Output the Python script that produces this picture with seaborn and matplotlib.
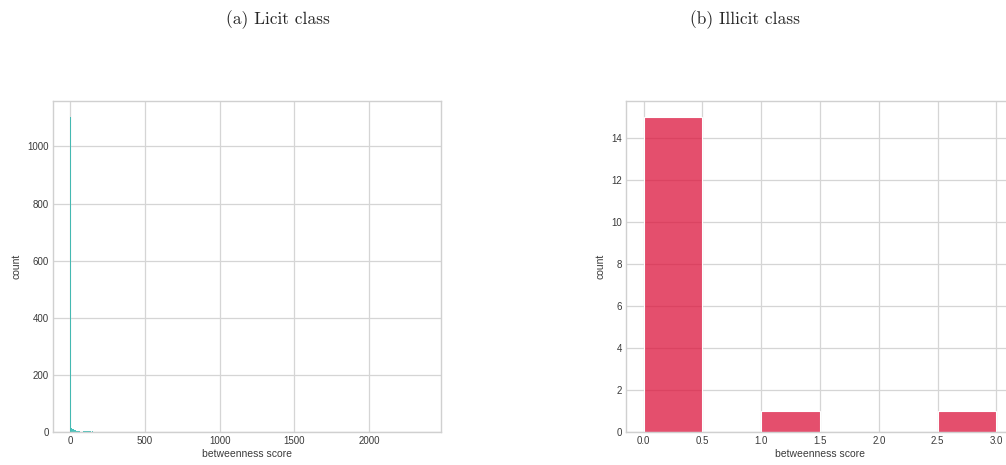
import numpy as np
import pandas as pd
import seaborn as sns
import matplotlib
matplotlib.use("Agg")
import matplotlib.pyplot as plt

# Betweenness scores (bin left edge, width 6) and node counts, licit class
licit_scores = [0, 6, 12, 18, 24, 30, 36, 42, 48, 54, 60, 66, 72,
                84, 90, 96, 102, 108, 114, 120, 126, 132, 138, 144, 150,
                198, 210, 222, 228, 264, 282, 414, 1221, 2358]
licit_counts = [1104, 14, 12, 10, 9, 7, 5, 4, 4, 3, 3, 2, 2,
                5, 4, 4, 3, 4, 3, 3, 4, 3, 2, 3, 2,
                2, 2, 1, 2, 1, 2, 1, 1, 1]

# Betweenness scores and node counts, illicit class
illicit_scores = [0.0, 1.2, 3.0]
illicit_counts = [15, 1, 1]

titles = ["(a) Licit class", "(b) Illicit class"]
xlabel = "betweenness score"
ylabel = "count"

sns.set_theme(style="whitegrid")
plt.rcParams["font.family"] = ["Liberation Sans", "DejaVu Sans"]
plt.rcParams.update({
    "axes.edgecolor": "#d0d0d0",
    "grid.color": "#d5d5d5",
    "axes.linewidth": 1.0,
    "grid.linewidth": 0.9,
    "xtick.labelsize": 7,
    "ytick.labelsize": 7,
    "axes.labelsize": 7.5,
    "xtick.color": "#3a3a3a",
    "ytick.color": "#3a3a3a",
    "axes.labelcolor": "#3a3a3a",
})

W, H = 1006, 465
fig = plt.figure(figsize=(W / 100, H / 100), dpi=100)

def px_axes(x0, y0, x1, y1):
    return fig.add_axes([x0 / W, 1 - y1 / H, (x1 - x0) / W, (y1 - y0) / H])

ax1 = px_axes(52.7, 101, 441, 432.3)
ax2 = px_axes(626, 101, 1014, 432.3)

licit = pd.DataFrame({"score": licit_scores, "n": licit_counts})
sns.histplot(data=licit, x="score", weights="n", binwidth=6, binrange=(0, 2364),
             color="#20b2aa", alpha=0.8, linewidth=0, ax=ax1)
ax1.set_yticks([0, 200, 400, 600, 800, 1000])
ax1.set_xticks([0, 500, 1000, 1500, 2000])

illicit = pd.DataFrame({"score": illicit_scores, "n": illicit_counts})
sns.histplot(data=illicit, x="score", weights="n", binwidth=0.5, binrange=(0, 3),
             color="crimson", alpha=0.75, edgecolor="white", linewidth=0.8, ax=ax2)
ax2.set_yticks(range(0, 15, 2))
ax2.set_xticks([0.0, 0.5, 1.0, 1.5, 2.0, 2.5, 3.0])

for ax in (ax1, ax2):
    ax.set_xlabel(xlabel, labelpad=2)
    ax.set_ylabel(ylabel, labelpad=4)
    ax.tick_params(pad=3, length=0)

fig.text(278 / W, 1 - 20 / H, titles[0], ha="center", va="center",
         family="cmr10", fontsize=12.5)
fig.text(745 / W, 1 - 20 / H, titles[1], ha="center", va="center",
         family="cmr10", fontsize=12.5)

fig.savefig("out.png", dpi=100)
